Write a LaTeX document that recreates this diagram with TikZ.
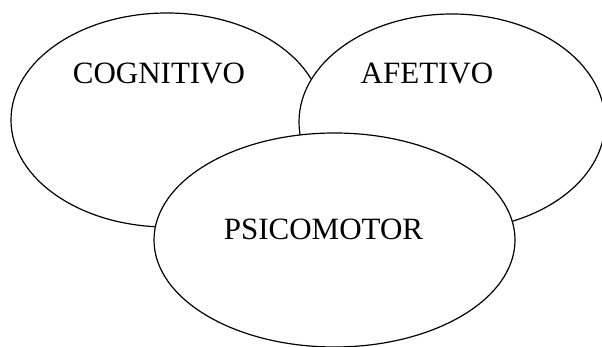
\documentclass[tikz,border=0pt]{standalone}
\usepackage{fontspec}
\setmainfont{Liberation Serif}
\usetikzlibrary{shapes.geometric}

\begin{document}
\begin{tikzpicture}[
  x=1pt, y=1pt,
  blob/.style={ellipse,draw,fill=white,line width=1.2pt,inner sep=0pt},
  every node/.style={text=black},
  lbl/.style={font=\fontsize{31}{36}\selectfont,inner sep=0pt}
]
  \useasboundingbox (0,0) rectangle (602,347);
  \node[blob,minimum width=312pt,minimum height=214pt] (cog) at (167,227) {};
  \node[blob,minimum width=306pt,minimum height=216pt] (afe) at (452,225) {};
  \node[blob,minimum width=361pt,minimum height=214pt] (psi) at (334.5,107) {};
  \node[lbl] (cogtxt) at ([shift={(-8,47)}]cog.center) {COGNITIVO};
  \node[lbl] (afetxt) at ([shift={(-25,49)}]afe.center) {AFETIVO};
  \node[lbl] (psitxt) at ([shift={(-11,11)}]psi.center) {PSICOMOTOR};
\end{tikzpicture}
\end{document}
